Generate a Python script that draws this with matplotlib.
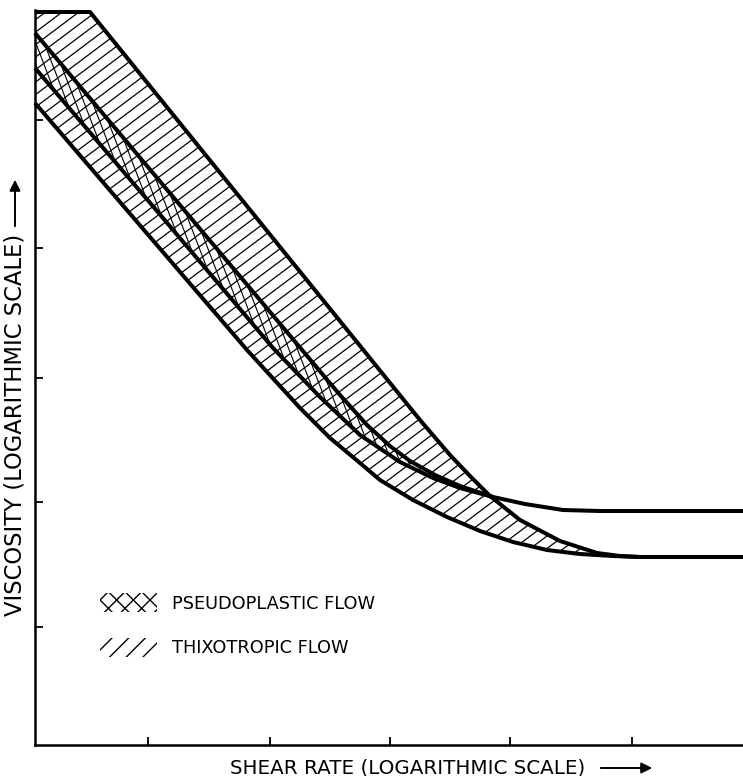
import numpy as np
import matplotlib
matplotlib.use("Agg")
import matplotlib.pyplot as plt
from matplotlib.collections import LineCollection
from matplotlib.patches import Patch

# Curves (units: pixels from the axes origin)
# thixotropic band, upper edge (starts with the flat cap at the top)
thixo_hi_x = [0, 55, 385, 415, 435, 455, 485, 525, 562, 585, 605]
thixo_hi_y = [733, 733, 325, 290, 269, 249, 225, 204, 192, 189, 188]
# thixotropic band, lower edge -> low plateau
thixo_lo_x = [0, 115, 212, 265, 295, 325, 345, 378, 412, 445, 478, 512, 545, 578, 605, 708]
thixo_lo_y = [642, 508, 395, 337, 307, 282, 265, 245, 228, 214, 203, 195, 191, 189, 188, 188]
# pseudoplastic band, upper edge -> high plateau
pseudo_hi_x = [0, 305, 332, 355, 375, 400, 425, 458, 490, 528, 565, 708]
pseudo_hi_y = [712, 350, 320, 299, 284, 270, 259, 248, 241, 235, 234, 234]
# pseudoplastic band, lower edge (joins the upper one at the crossing)
pseudo_lo_x = [0, 122, 238, 285, 325, 365, 398, 425, 458]
pseudo_lo_y = [677, 534, 397, 348, 310, 283, 267, 257, 248]

x_ticks = [113, 235, 355, 475, 597]
y_ticks = [118, 243, 367, 497, 625]

labels = ["PSEUDOPLASTIC FLOW", "THIXOTROPIC FLOW"]

plt.rcParams["font.family"] = ["DejaVu Sans"]
fig = plt.figure(figsize=(7.43, 7.76), dpi=100)
ax = fig.add_axes([35 / 743, 31 / 776, 708 / 743, 735 / 776])
ax.set_xlim(0, 708)
ax.set_ylim(0, 735)


def hatch_lines(slope, step, lo, hi):
    xs = np.array([-20.0, 740.0])
    return [np.column_stack([xs, slope * xs + c]) for c in np.arange(lo, hi, step)]


# thixotropic region (single hatch)
keep = [i for i, x in enumerate(thixo_lo_x) if x <= thixo_hi_x[-1]][::-1]
xs_t = list(thixo_hi_x) + [thixo_lo_x[i] for i in keep]
ys_t = list(thixo_hi_y) + [thixo_lo_y[i] for i in keep]
thixo_poly = ax.fill(xs_t, ys_t, facecolor="none", edgecolor="none")[0]
lc1 = LineCollection(hatch_lines(0.75, 12.5, -700, 800), colors="black", linewidths=0.9)
ax.add_collection(lc1)
lc1.set_clip_path(thixo_poly)

# pseudoplastic region (second hatch direction on top)
end = pseudo_lo_x[-1]
keep = [i for i, x in enumerate(pseudo_hi_x) if x <= end]
xs_p = [pseudo_hi_x[i] for i in keep] + pseudo_lo_x[::-1]
ys_p = [pseudo_hi_y[i] for i in keep] + pseudo_lo_y[::-1]
pseudo_poly = ax.fill(xs_p, ys_p, facecolor="none", edgecolor="none")[0]
lc2 = LineCollection(hatch_lines(-2.6, 22, 0, 2700), colors="black", linewidths=0.8)
ax.add_collection(lc2)
lc2.set_clip_path(pseudo_poly)

# boundary curves
for xs, ys in [(thixo_hi_x, thixo_hi_y), (thixo_lo_x, thixo_lo_y),
               (pseudo_hi_x, pseudo_hi_y), (pseudo_lo_x, pseudo_lo_y)]:
    ax.plot(xs, ys, color="black", lw=2.9, solid_joinstyle="round",
            solid_capstyle="butt", clip_on=False)

# axes
for s in ["top", "right"]:
    ax.spines[s].set_visible(False)
for s in ["left", "bottom"]:
    ax.spines[s].set_linewidth(1.8)
ax.set_xticks(x_ticks)
ax.set_yticks(y_ticks)
ax.tick_params(direction="in", length=6, width=1.3, labelbottom=False, labelleft=False)

# axis titles with arrows
fig.text(230 / 743, 1 - 768 / 776, "SHEAR RATE (LOGARITHMIC SCALE)",
         fontsize=14.3, ha="left", va="center")
ax.annotate("", xy=(655 / 743, 1 - 768 / 776), xytext=(598 / 743, 1 - 768 / 776),
            xycoords="figure fraction",
            arrowprops=dict(arrowstyle="-|>", color="black", lw=1.4, mutation_scale=16))
fig.text(15 / 743, 1 - 234 / 776, "VISCOSITY (LOGARITHMIC SCALE)",
         fontsize=16.3, rotation=90, ha="center", va="top")
ax.annotate("", xy=(15 / 743, 1 - 177 / 776), xytext=(15 / 743, 1 - 229 / 776),
            xycoords="figure fraction",
            arrowprops=dict(arrowstyle="-|>", color="black", lw=1.4, mutation_scale=16))

# legend
handles = [Patch(facecolor="white", edgecolor="black", linewidth=0, hatch="xx"),
           Patch(facecolor="white", edgecolor="black", linewidth=0, hatch="//")]
ax.legend(handles, labels, loc="upper left", bbox_to_anchor=(65 / 708, 152 / 735),
          frameon=False, fontsize=12.8, handlelength=3.2, handleheight=1.3,
          handletextpad=0.85, labelspacing=1.4, borderpad=0, borderaxespad=0)

fig.savefig("out.png", dpi=100)
